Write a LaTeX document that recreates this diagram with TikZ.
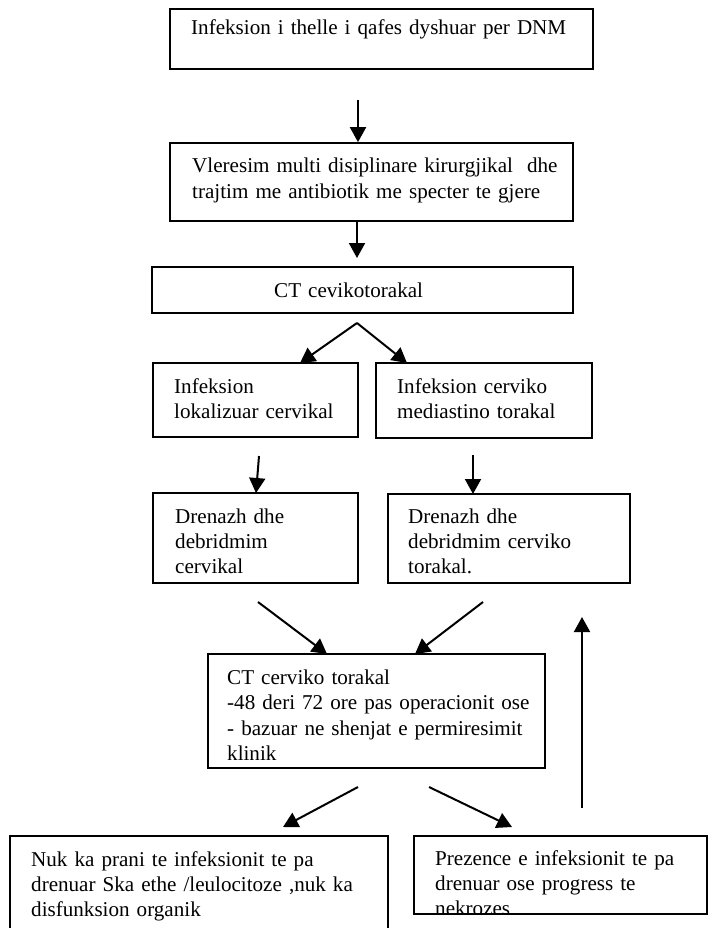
\documentclass[tikz,border=0pt]{standalone}
\usepackage{fontspec}
\setmainfont{Liberation Serif}
\usetikzlibrary{arrows.meta,fit}
\begin{document}
\begin{tikzpicture}[x=1pt,y=-1pt,
  box/.style={draw=black, line width=1.7pt, inner sep=0pt},
  txt/.style={anchor=base west, inner sep=0pt, text width=420pt, align=left,
              font=\fontsize{21.1}{25}\selectfont},
  arr/.style={line width=2pt, -{Triangle[width=16pt,length=15pt]}}
]
\useasboundingbox (0,0) rectangle (709,928);
\clip (0,0) rectangle (709,928);
\fill[white] (0,0) rectangle (709,928);

% boxes
\node[box, fit={(170,9) (593,69)}] (b1) {};
\node[box, fit={(170,143) (573,221)}] (b2) {};
\node[box, fit={(152,267) (573,313)}] (b3) {};
\node[box, fit={(153,363) (358,437)}] (b4l) {};
\node[box, fit={(376,363) (592,438)}] (b4r) {};
\node[box, fit={(153,493) (358,583)}] (b5l) {};
\node[box, fit={(388,494) (630,583)}] (b5r) {};
\node[box, fit={(208,654) (545,768)}] (b6) {};
\node[box, fit={(10,836) (388,950)}] (b7l) {};
\node[box, fit={(414,836) (707,914)}] (b7r) {};

% texts
\node[txt] (t1) at (191,35) {Infeksion i thelle i qafes dyshuar per DNM};
\node[txt] (t2) at (192,173) {Vleresim multi disiplinare kirurgjikal\ \ dhe\\trajtim me antibiotik me specter te gjere};
\node[txt] (t3) at (274,297) {CT cevikotorakal};
\node[txt] (t4l) at (174,393) {Infeksion\\lokalizuar cervikal};
\node[txt] (t4r) at (397,393) {Infeksion cerviko\\mediastino torakal};
\node[txt] (t5l) at (175,523) {Drenazh dhe\\debridmim\\cervikal};
\node[txt] (t5r) at (408,523) {Drenazh dhe\\debridmim cerviko\\torakal.};
\node[txt, font=\fontsize{21.1}{25.5}\selectfont] (t6) at (227,684) {CT cerviko torakal\\-48 deri 72 ore pas operacionit ose\\- bazuar ne shenjat e permiresimit\\klinik};
\node[txt] (t7l) at (31,866) {Nuk ka prani te infeksionit te pa\\drenuar Ska ethe /leulocitoze ,nuk ka\\disfunksion organik};
\begin{scope}
  \clip (b7r.north west) rectangle (b7r.south east);
  \node[txt] (t7r) at (435,865) {Prezence e infeksionit te pa\\drenuar ose progress te\\nekrozes};
\end{scope}

% connector end points
\coordinate (a1s) at (358,100);
\coordinate (a2s) at (357,221);
\coordinate (a2e) at (357,258);
\coordinate (apex) at (357,323);
\coordinate (sl) at (300,363);
\coordinate (sr) at (407,363);
\coordinate (a3ls) at (259,456);
\coordinate (a3le) at (256,493);
\coordinate (a3rs) at (473,455);
\coordinate (a3re) at (473,494);
\coordinate (dls) at (258,602);
\coordinate (dle) at (327,654);
\coordinate (drs) at (483,602);
\coordinate (dre) at (415,654);
\coordinate (ups) at (582,808);
\coordinate (upe) at (582,617);
\coordinate (bls) at (358,787);
\coordinate (ble) at (283,827);
\coordinate (brs) at (429,787);
\coordinate (bre) at (512,827);

% connectors
\draw[arr] (a1s) -- (a1s |- b2.north);
\draw[arr] (a2s) -- (a2e);
\draw[arr] (apex) -- (sl);
\draw[arr] (apex) -- (sr);
\draw[arr] (a3ls) -- (a3le);
\draw[arr] (a3rs) -- (a3re);
\draw[arr] (dls) -- (dle);
\draw[arr] (drs) -- (dre);
\draw[arr] (ups) -- (upe);
\draw[arr] (bls) -- (ble);
\draw[arr] (brs) -- (bre);
\end{tikzpicture}
\end{document}
